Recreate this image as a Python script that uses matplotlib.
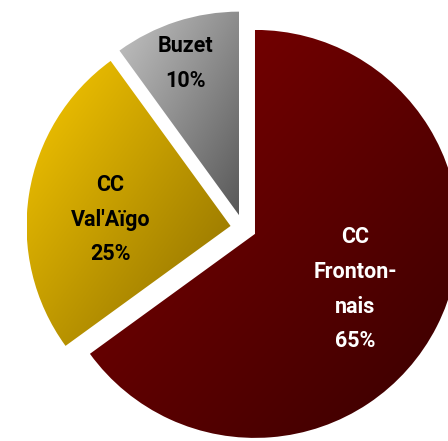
import numpy as np
import matplotlib
matplotlib.use("Agg")
import matplotlib.pyplot as plt
from matplotlib.colors import LinearSegmentedColormap

labels = ["CC\nFronton-\nnais\n65%", "CC\nVal'Aïgo\n25%", "Buzet\n10%"]
values = [65, 25, 10]
grad_colors = [("#820000", "#380000"), ("#f8c800", "#8a6c00"), ("#c4c4c4", "#585858")]
text_colors = ["white", "black", "black"]
text_dist = [0.56, 0.59, 0.79]
text_angle_shift = [-2, 6, 1.6]

fig = plt.figure(figsize=(4.48, 4.41), dpi=100)
ax = fig.add_axes([0, 0, 1, 1])
radius = 204
center = (243.4, 213)
wedges, _ = ax.pie(values, startangle=90, counterclock=False, radius=radius,
                   center=center, explode=[13] * 3, frame=True,
                   wedgeprops=dict(linewidth=0, edgecolor="none"))
ax.set_xlim(0, 448)
ax.set_ylim(0, 441)
ax.set_aspect("equal")
ax.axis("off")

family = ["Roboto", "DejaVu Sans"]
for w, (c1, c2), lab, tc, d, sh in zip(wedges, grad_colors, labels, text_colors,
                                       text_dist, text_angle_shift):
    w.set_facecolor("none")
    cx, cy = w.center
    # wedge bounding box (apex + arc)
    a = np.deg2rad(np.linspace(w.theta1, w.theta2, 200))
    px = np.concatenate([[cx], cx + radius * np.cos(a)])
    py = np.concatenate([[cy], cy + radius * np.sin(a)])
    x0, x1, y0, y1 = px.min(), px.max(), py.min(), py.max()
    cmap = LinearSegmentedColormap.from_list("g", [c1, c2])
    n = 256
    u = np.linspace(0, 1, n)
    U, V = np.meshgrid(u, u)
    G = (U + V) / 2
    im = ax.imshow(G, cmap=cmap, extent=[x0, x1, y0, y1], origin="upper",
                   interpolation="bilinear", zorder=1, vmin=0, vmax=1)
    im.set_clip_path(w)
    th = np.deg2rad((w.theta1 + w.theta2) / 2 + sh)
    tx = cx + d * radius * np.cos(th)
    ty = cy + d * radius * np.sin(th)
    ax.text(tx, ty, lab, ha="center", va="center", color=tc, fontsize=15.5,
            fontweight="bold", family=family, linespacing=1.75, zorder=3)

ax.set_xlim(0, 448)
ax.set_ylim(0, 441)
fig.savefig("out.png", dpi=100)
